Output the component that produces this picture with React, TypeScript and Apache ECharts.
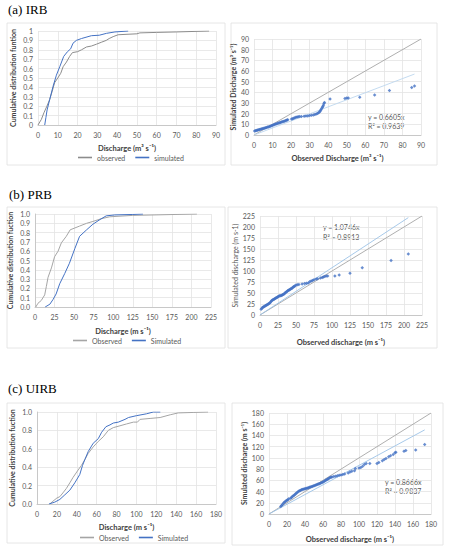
import React, { useEffect, useRef } from 'react';
import * as echarts from 'echarts';

// ---------- (a) IRB ----------
const irbObsQ = [0, 1.7, 3, 4.5, 5.9, 7.2, 8.4, 10, 11.5, 12.7, 14.4, 16, 17.4, 20, 22, 24.5, 27, 29.6, 32, 34.5, 36, 38, 40.5, 45, 50, 51.5, 60, 70, 86.5];
const irbObsP = [0, 0.06, 0.13, 0.2, 0.27, 0.36, 0.45, 0.5, 0.55, 0.62, 0.67, 0.73, 0.77, 0.78, 0.8, 0.83, 0.84, 0.86, 0.88, 0.9, 0.92, 0.94, 0.96, 0.965, 0.97, 0.98, 0.985, 0.99, 1];
const irbSimQ = [3.4, 4.0, 4.6, 5.9, 7.6, 9.3, 11, 13, 14.9, 16.5, 17.7, 19.4, 22, 27, 31, 34.6, 38.9, 45.6];
const irbSimP = [0, 0.08, 0.16, 0.27, 0.41, 0.53, 0.62, 0.73, 0.78, 0.81, 0.87, 0.9, 0.92, 0.95, 0.955, 0.975, 0.99, 1];
const irbScObs = [0.3, 0.8, 1.2, 1.7, 2.1, 2.6, 3.0, 3.5, 4.0, 4.4, 4.9, 5.4, 5.9, 6.3, 6.8, 7.3, 7.8, 8.3, 8.8, 9.3, 9.8, 10.3, 10.8, 11.3, 11.8, 12.3, 12.8, 13.3, 13.8, 14.3, 14.8, 15.3, 15.8, 16.3, 16.8, 17.3, 17.8, 18.2,
  20.2, 20.8, 21.4, 22.0, 22.6, 23.2, 23.8, 24.5, 25.5, 27.0, 28.0, 29.0, 30.0, 31.0, 32.0, 32.8, 33.5, 34.2, 34.8, 35.3, 35.7, 36.0, 36.4, 36.8, 37.1, 37.4, 37.7, 38.0, 41.0, 49.0, 50.0, 50.8, 57.0, 65.0, 73.0, 85.0, 86.5];
const irbScSim = [3.8, 4.0, 4.2, 4.5, 4.7, 5.0, 5.2, 5.4, 5.7, 5.9, 6.1, 6.4, 6.6, 6.9, 7.1, 7.4, 7.6, 7.9, 8.2, 8.6, 9.0, 9.3, 9.7, 10.0, 10.3, 10.6, 10.9, 11.2, 11.5, 11.8, 12.1, 12.4, 12.7, 13.0, 13.3, 13.6, 14.0, 14.4,
  15.0, 15.3, 15.8, 16.2, 16.6, 16.9, 17.1, 17.3, 17.4, 17.6, 17.7, 17.9, 18.2, 18.5, 18.8, 19.2, 19.6, 20.2, 20.8, 21.5, 22.5, 23.5, 24.6, 25.8, 26.8, 28.0, 29.5, 30.4, 33.8, 34.3, 34.8, 34.8, 35.3, 37.6, 41.8, 44.6, 46.0];
const irbSlope = 0.6605;
const irbR2 = 0.9639;

// ---------- (b) PRB ----------
const prbObsQ = [1, 3.8, 8, 12.4, 14.5, 16.7, 21, 25, 29.5, 33.7, 40, 45, 51, 57, 66, 74, 85, 95.6, 125, 207];
const prbObsP = [0, 0.04, 0.07, 0.13, 0.22, 0.32, 0.42, 0.54, 0.6, 0.69, 0.76, 0.83, 0.85, 0.87, 0.9, 0.92, 0.95, 0.97, 0.985, 1];
const prbSimQ = [13, 19, 23, 27, 31.6, 38, 44, 51, 57, 66, 74, 83, 91, 102, 125, 138];
const prbSimP = [0, 0.03, 0.08, 0.14, 0.25, 0.36, 0.47, 0.63, 0.76, 0.83, 0.89, 0.94, 0.98, 0.99, 0.995, 1];
const prbScObs = [1.5, 2.5, 3.5, 4.5, 5.5, 6.5, 7.5, 8.5, 9.5, 10.5, 11.5, 12.5, 13.5, 14.5, 15.5, 16.5, 17.5, 18.5, 19.5, 20.5, 21.5, 22.5, 23.5, 24.5, 25.5, 26.5, 27.5, 28.5, 29.5, 30.5, 31.5, 32.5, 33.5, 34.5, 35.5, 36.5, 37.5, 38.5, 39.5, 40.5, 41.5, 42.5, 43.5, 44.5, 45.5, 46.5, 47.5, 48.5,
  50, 52, 54, 58.5, 62, 64.5, 67, 69, 71, 73, 75, 78, 80, 84, 86.5, 88, 90, 92, 94, 104, 110, 125, 142, 182, 206];
const prbScSim = [13, 15, 17, 18, 19, 20, 21, 22, 23, 24, 25, 26, 27, 29, 31, 33, 34, 35, 36, 37, 38, 39, 40, 41, 42, 43, 43.5, 44, 44.5, 45, 46, 47, 48, 49.5, 51, 52, 53.5, 55, 56, 57, 58, 59, 60, 61, 62.5, 64, 65, 66,
  68, 69, 69.5, 70.5, 71.5, 72, 73, 75.5, 77, 78.5, 80, 82, 82.5, 84, 85, 86.5, 87.5, 88.5, 88.8, 88.6, 91, 94.7, 107.6, 124, 138.6];
const prbSlope = 1.0746;
const prbR2 = 0.8913;

// ---------- (c) UIRB ----------
const uirbObsQ = [12.8, 16, 20, 23, 26, 29.6, 33, 36.3, 41.4, 44.7, 48, 51.5, 56.5, 61.6, 66.6, 71.7, 76.7, 83.4, 90, 97, 101, 103.6, 113.7, 123.8, 134, 142, 157, 172];
const uirbObsP = [0, 0.03, 0.065, 0.08, 0.12, 0.17, 0.23, 0.29, 0.37, 0.42, 0.48, 0.55, 0.62, 0.68, 0.73, 0.8, 0.83, 0.85, 0.87, 0.89, 0.89, 0.92, 0.93, 0.94, 0.97, 0.99, 0.995, 1];
const uirbSimQ = [12, 17.8, 23, 28, 33, 38, 43, 45.8, 48, 51.5, 56.5, 61.6, 65, 69.3, 73.4, 76.7, 81.8, 88.5, 92, 100, 110, 117, 124];
const uirbSimP = [0, 0.02, 0.05, 0.1, 0.15, 0.23, 0.32, 0.42, 0.48, 0.57, 0.66, 0.71, 0.78, 0.84, 0.86, 0.88, 0.89, 0.92, 0.94, 0.96, 0.98, 1, 1];
const uirbScObs = [13, 14, 15, 16, 17, 18, 19, 20, 21, 22, 24, 25, 26, 27, 28, 29, 30, 31, 32, 33, 34, 35, 36, 37, 38, 39, 40, 41, 42, 43, 44, 45, 46, 47, 48, 49, 50, 51, 52, 53, 54, 55, 56, 57, 58, 59, 60, 61, 62, 63, 64, 65, 66, 67, 68, 69, 70, 72, 74, 76, 78, 80, 82, 84,
  88, 90, 92, 95, 96, 100, 102, 104, 106, 108, 112, 120, 122, 126, 128, 130, 133, 135, 138, 140, 141, 150, 152, 163, 173];
const uirbScSim = [13.5, 15, 17, 19, 21, 22, 23.5, 24.5, 25.5, 27, 28, 29.5, 31, 32.5, 33.5, 35, 36.5, 38, 39, 40.5, 41.5, 42, 43, 43.5, 44, 44.5, 45, 45.5, 46, 46.5, 47, 47.5, 48, 48.5, 49, 50, 50.5, 51, 51.5, 52, 53, 53.5, 54, 55, 55.5, 56, 57, 58, 59, 60, 61, 62, 63, 64, 65, 65.5, 66, 67, 67.5, 68, 69, 69.5, 70.5, 71.5,
  73, 75, 76, 77, 81, 82, 83, 85, 88, 90, 90, 90, 92, 95, 97, 99, 102, 104, 106, 109, 110, 112, 113, 114, 124];
const uirbSlope = 0.8666;
const uirbR2 = 0.9837;

const zip = (a: number[], b: number[]) => a.map((v, i) => [v, b[i]]);

const FONT = 'Lato';
const GRAY_TXT = '#595959';
const TITLE_TXT = '#404040';
const GRID_LINE = '#E3E3E3';
const OBS_COLOR = '#A5A5A5';
const SIM_COLOR = '#4472C4';

function xAx(gridIndex: number, max: number, interval: number, name: string, nameGap: number, showLine = true) {
  return {
    type: 'value', gridIndex, min: 0, max, interval,
    name, nameLocation: 'middle', nameGap,
    nameTextStyle: { fontFamily: FONT, fontSize: 7.5, fontWeight: 'bold', color: TITLE_TXT },
    axisLine: { show: showLine, lineStyle: { color: '#C8C8C8' } },
    axisTick: { show: false },
    axisLabel: { fontFamily: FONT, fontSize: 7, color: GRAY_TXT, margin: 6 },
    splitLine: { show: true, lineStyle: { color: GRID_LINE, width: 0.8 } },
  };
}
function yAx(gridIndex: number, max: number, interval: number, name: string, nameGap: number, fmt: (v: number) => string, showLine: boolean, bold = true) {
  return {
    type: 'value', gridIndex, min: 0, max, interval,
    name, nameLocation: 'middle', nameGap, nameRotate: 90,
    nameTextStyle: { fontFamily: FONT, fontSize: 7, fontWeight: bold ? 'bold' : 'normal', color: bold ? TITLE_TXT : GRAY_TXT },
    axisLine: { show: showLine, lineStyle: { color: '#C8C8C8' } },
    axisTick: { show: false },
    axisLabel: { fontFamily: FONT, fontSize: 7, color: GRAY_TXT, margin: 5, formatter: fmt },
    splitLine: { show: true, lineStyle: { color: GRID_LINE, width: 0.8 } },
  };
}

function cdfSeries(name: string, q: number[], p: number[], idx: number, color: string) {
  return {
    type: 'line', name, xAxisIndex: idx, yAxisIndex: idx, data: zip(q, p),
    showSymbol: false, symbol: 'none', lineStyle: { color, width: 1 }, itemStyle: { color },
  };
}
function refLine(name: string, idx: number, max: number, slope: number, color: string) {
  return {
    type: 'line', name, xAxisIndex: idx, yAxisIndex: idx, data: [[0, 0], [max, slope * max]],
    showSymbol: false, symbol: 'none', lineStyle: { color, width: 0.9 }, z: 2,
  };
}
function scatter(name: string, obs: number[], sim: number[], idx: number) {
  return {
    type: 'scatter', name, xAxisIndex: idx, yAxisIndex: idx, data: zip(obs, sim),
    symbol: 'diamond', symbolSize: 3.5, itemStyle: { color: SIM_COLOR }, z: 3,
  };
}

const f1 = (v: number) => String(Math.round(v * 10) / 10);
const f1d = (v: number) => (Math.round(v * 10) / 10).toFixed(1);
const fi = (v: number) => String(Math.round(v));

function legend(names: string[], left: number, top: number) {
  return {
    data: names, left, top, orient: 'horizontal', icon: 'rect', itemWidth: 14, itemHeight: 1.6, itemGap: 10,
    textStyle: { fontFamily: FONT, fontSize: 7, color: GRAY_TXT }, padding: 0, selectedMode: false,
  };
}

function box(x: number, y: number, w: number, h: number) {
  return { type: 'rect', shape: { x, y, width: w, height: h }, style: { fill: 'none', stroke: '#E0E0E0', lineWidth: 0.8 }, silent: true, z: -1 };
}
function txt(text: string, x: number, y: number, font: string, color: string) {
  return { type: 'text', x, y, style: { text, font, fill: color } };
}

export default function App() {
  const ref = useRef<HTMLDivElement>(null);
  useEffect(() => {
    if (!ref.current) return;
    const chart = echarts.init(ref.current, undefined, { renderer: 'svg' });
    const irbMax = Math.max(...irbScObs);
    const prbMax = Math.max(...prbScObs);
    const uirbMax = Math.max(...uirbScObs);
    const option = {
      animation: false,
      backgroundColor: '#ffffff',
      grid: [
        { left: 38, top: 31, width: 178, height: 94 },
        { left: 254, top: 39, width: 167, height: 96 },
        { left: 35, top: 214, width: 176, height: 93 },
        { left: 260, top: 216, width: 162, height: 99 },
        { left: 37, top: 412, width: 179, height: 92 },
        { left: 269, top: 413, width: 162, height: 101 },
      ],
      xAxis: [
        xAx(0, 90, 10, 'Discharge (m³ s⁻¹)', 19),
        xAx(1, 90, 10, 'Observed Discharge (m³ s⁻¹)', 19),
        xAx(2, 225, 25, 'Discharge (m s⁻¹)', 20),
        xAx(3, 225, 25, 'Observed discharge (m s⁻¹)', 23),
        xAx(4, 180, 20, 'Discharge (m s⁻¹)', 19),
        xAx(5, 180, 20, 'Observed discharge (m s⁻¹)', 21),
      ],
      yAxis: [
        yAx(0, 1, 0.1, 'Cumulative distribution funtion', 22, f1, false),
        yAx(1, 90, 10, 'Simulated Discharge (m³ s⁻¹)', 18, fi, false),
        yAx(2, 1, 0.1, 'Cumulative distribution fuction', 22, f1d, true),
        yAx(3, 225, 25, 'Simulated discharge (m s-1)', 21, fi, false, false),
        yAx(4, 1, 0.2, 'Cumulative distribution fuction', 22, f1d, true),
        yAx(5, 180, 20, 'Simulated discharge (m s⁻¹)', 20, fi, false),
      ],
      legend: [
        legend(['observed', 'simulated'], 78, 154),
        legend(['Observed', 'Simulated'], 73, 337),
        legend(['Observed', 'Simulated'], 80, 534),
      ],
      graphic: [
        box(7, 23, 218, 142),
        box(231, 23, 206, 142),
        box(7, 207, 218, 141),
        box(228, 207, 209, 141),
        box(7, 403, 218, 140),
        box(232, 403, 211, 142),
        txt('(a) IRB', 8, 3, '13px "Liberation Serif"', '#000'),
        txt('(b) PRB', 9, 188, '13px "Liberation Serif"', '#000'),
        txt('(c) UIRB', 8, 382, '13px "Liberation Serif"', '#000'),
        txt('y = ' + irbSlope + 'x', 368, 113, '7px Lato', GRAY_TXT),
        txt('R² = ' + irbR2, 368, 122, '7px Lato', GRAY_TXT),
        txt('y = ' + prbSlope + 'x', 323, 223, '7px Lato', GRAY_TXT),
        txt('R² = ' + prbR2, 323, 233, '7px Lato', GRAY_TXT),
        txt('y = ' + uirbSlope + 'x', 385, 478, '7px Lato', GRAY_TXT),
        txt('R² = ' + uirbR2, 385, 487, '7px Lato', GRAY_TXT),
      ],
      series: [
        cdfSeries('observed', irbObsQ, irbObsP, 0, '#8C8C8C'),
        cdfSeries('simulated', irbSimQ, irbSimP, 0, SIM_COLOR),
        refLine('IRB 1:1', 1, 90, 1, '#A6A6A6'),
        refLine('IRB trend', 1, irbMax, irbSlope, '#BDD7EE'),
        scatter('IRB sim vs obs', irbScObs, irbScSim, 1),
        cdfSeries('Observed', prbObsQ, prbObsP, 2, OBS_COLOR),
        cdfSeries('Simulated', prbSimQ, prbSimP, 2, SIM_COLOR),
        refLine('PRB 1:1', 3, 225, 1, '#A6A6A6'),
        refLine('PRB trend', 3, prbMax, prbSlope, '#9DC3E6'),
        scatter('PRB sim vs obs', prbScObs, prbScSim, 3),
        cdfSeries('Observed', uirbObsQ, uirbObsP, 4, OBS_COLOR),
        cdfSeries('Simulated', uirbSimQ, uirbSimP, 4, SIM_COLOR),
        refLine('UIRB 1:1', 5, 180, 1, '#A6A6A6'),
        refLine('UIRB trend', 5, uirbMax, uirbSlope, '#9DC3E6'),
        scatter('UIRB sim vs obs', uirbScObs, uirbScSim, 5),
      ],
    };
    chart.setOption(option as any);
    return () => chart.dispose();
  }, []);
  return <div ref={ref} style={{ position: 'absolute', left: 0, top: 0, width: 449, height: 550, background: '#fff' }} />;
}
